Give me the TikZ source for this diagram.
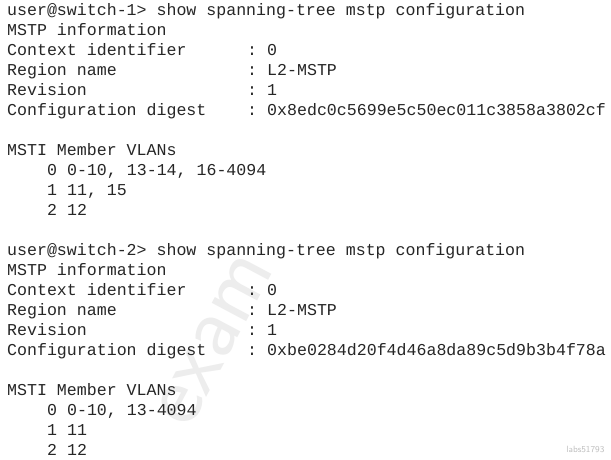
\documentclass[tikz,border=0pt]{standalone}
\usepackage{fontspec}
\setmonofont{Liberation Mono}
\begin{document}
\begin{tikzpicture}[x=1pt,y=-1pt,
  t/.style={anchor=base west,inner sep=0pt,font=\ttfamily\fontsize{16.6}{20}\selectfont,text=black!85}]
\useasboundingbox (0,0) rectangle (611,459);
\fill[white] (0,0) rectangle (611,459);
\node[rotate=62,text=black!7,font=\sffamily\fontsize{90}{90}\selectfont] (wm) at (215,340) {exam};
\node[text=black!25,font=\sffamily\fontsize{9}{9}\selectfont,anchor=east] (lb) at (608,449) {labs51793};
\newcommand\myln[3]{\node[t] (#1) at (7,#2) {#3};}
\newcommand\mykv[4]{\node[t] (#1k) at (7,#2) {#3}; \node[t] (#1c) at (247,#2) {:}; \node[t] (#1v) at (267,#2) {#4};}
% switch 1
\myln{a1}{15}{user@switch-1> show spanning-tree mstp configuration}
\myln{a2}{35}{MSTP information}
\mykv{a3}{55}{Context identifier}{0}
\mykv{a4}{75}{Region name}{L2-MSTP}
\mykv{a5}{95}{Revision}{1}
\mykv{a6}{115}{Configuration digest}{0x8edc0c5699e5c50ec011c3858a3802cf}
\myln{a7}{155}{MSTI Member VLANs}
\node[t] (a8) at (47,175) {0 0-10, 13-14, 16-4094};
\node[t] (a9) at (47,195) {1 11, 15};
\node[t] (a10) at (47,215) {2 12};
% switch 2
\myln{b1}{255}{user@switch-2> show spanning-tree mstp configuration}
\myln{b2}{275}{MSTP information}
\mykv{b3}{295}{Context identifier}{0}
\mykv{b4}{315}{Region name}{L2-MSTP}
\mykv{b5}{335}{Revision}{1}
\mykv{b6}{355}{Configuration digest}{0xbe0284d20f4d46a8da89c5d9b3b4f78a}
\myln{b7}{395}{MSTI Member VLANs}
\node[t] (b8) at (47,415) {0 0-10, 13-4094};
\node[t] (b9) at (47,435) {1 11};
\node[t] (b10) at (47,455) {2 12};
\end{tikzpicture}
\end{document}
